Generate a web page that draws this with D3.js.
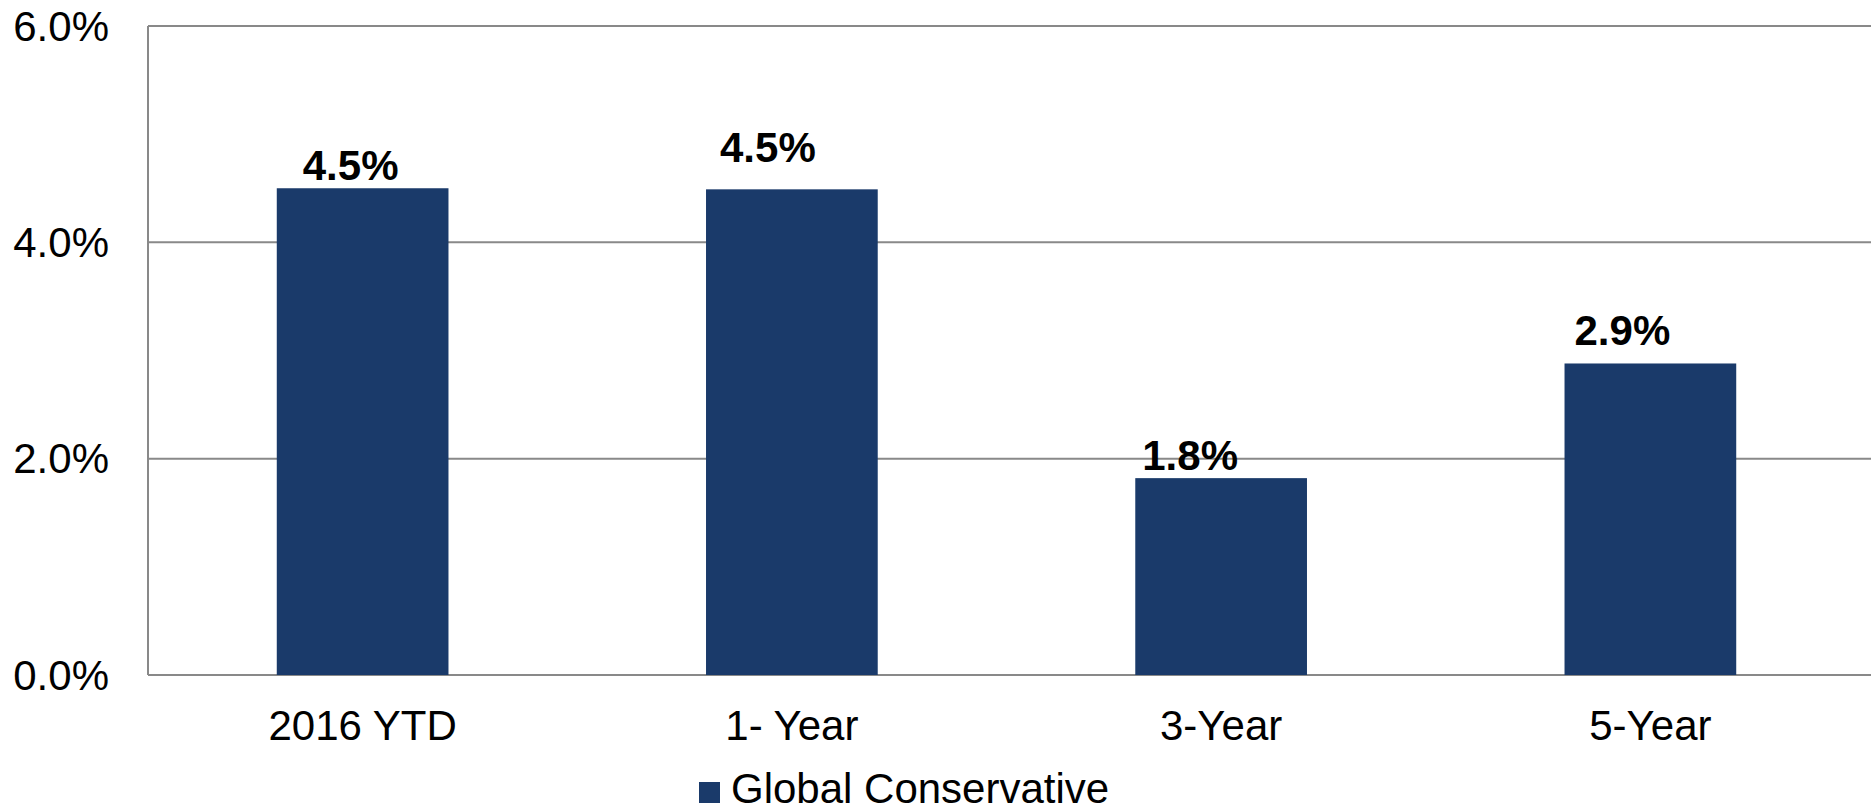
<!DOCTYPE html>
<html>
<head>
<meta charset="utf-8">
<script src="https://cdn.jsdelivr.net/npm/d3@7"></script>
<style>
  html, body { margin: 0; padding: 0; background: #fff; }
  svg { display: block; }
  text { font-family: "Liberation Sans", Arial, sans-serif; fill: #000; }
</style>
</head>
<body>
<svg id="chart" width="1871" height="810"></svg>
<script>
const categories = ["2016 YTD", "1- Year", "3-Year", "5-Year"];
const values = [4.50, 4.49, 1.82, 2.88];
const valueLabels = ["4.5%", "4.5%", "1.8%", "2.9%"];
const yTicks = [0, 2, 4, 6];
const seriesName = "Global Conservative";
// manual label nudges (dx from bar centre, dy from bar top), as in the original
const labelNudge = [[-12, -8], [-24, -27], [-31, -8], [-28, -18]];

const W = 1871, H = 810;
const margin = { left: 148, right: 6, top: 26, bottom: 135 };
const barColor = "#1a3a6a";
const gridColor = "#898989";

const svg = d3.select("#chart");

const x = d3.scaleBand()
  .domain(categories)
  .range([margin.left, W - margin.right])
  .paddingInner(0.6)
  .paddingOuter(0.3);

const y = d3.scaleLinear()
  .domain([0, 6])
  .range([H - margin.bottom, margin.top]);

// gridlines
svg.append("g")
  .selectAll("line")
  .data(yTicks)
  .join("line")
  .attr("x1", margin.left)
  .attr("x2", W)
  .attr("y1", d => y(d))
  .attr("y2", d => y(d))
  .attr("stroke", gridColor)
  .attr("stroke-width", 2);

// left axis line
svg.append("line")
  .attr("x1", margin.left)
  .attr("x2", margin.left)
  .attr("y1", y(6))
  .attr("y2", y(0))
  .attr("stroke", gridColor)
  .attr("stroke-width", 2);

// y tick labels
svg.append("g")
  .selectAll("text")
  .data(yTicks)
  .join("text")
  .attr("x", 109)
  .attr("y", d => y(d) + 14.5)
  .attr("text-anchor", "end")
  .attr("font-size", 42)
  .text(d => d3.format(".1f")(d) + "%");

// bars
svg.append("g")
  .selectAll("rect")
  .data(values)
  .join("rect")
  .attr("x", (d, i) => x(categories[i]))
  .attr("width", x.bandwidth())
  .attr("y", d => y(d))
  .attr("height", d => y(0) - y(d))
  .attr("fill", barColor);

// value labels
svg.append("g")
  .selectAll("text")
  .data(values)
  .join("text")
  .attr("x", (d, i) => x(categories[i]) + x.bandwidth() / 2 + labelNudge[i][0])
  .attr("y", (d, i) => y(d) + labelNudge[i][1])
  .attr("text-anchor", "middle")
  .attr("font-size", 42)
  .attr("font-weight", "bold")
  .text((d, i) => valueLabels[i]);

// category labels
svg.append("g")
  .selectAll("text")
  .data(categories)
  .join("text")
  .attr("x", d => x(d) + x.bandwidth() / 2)
  .attr("y", 740)
  .attr("text-anchor", "middle")
  .attr("font-size", 42)
  .text(d => d);

// legend
const legend = svg.append("g");
legend.append("rect")
  .attr("x", 699)
  .attr("y", 782)
  .attr("width", 21)
  .attr("height", 21)
  .attr("fill", barColor);
legend.append("text")
  .attr("x", 731)
  .attr("y", 803)
  .attr("font-size", 42)
  .text(seriesName);
</script>
</body>
</html>
